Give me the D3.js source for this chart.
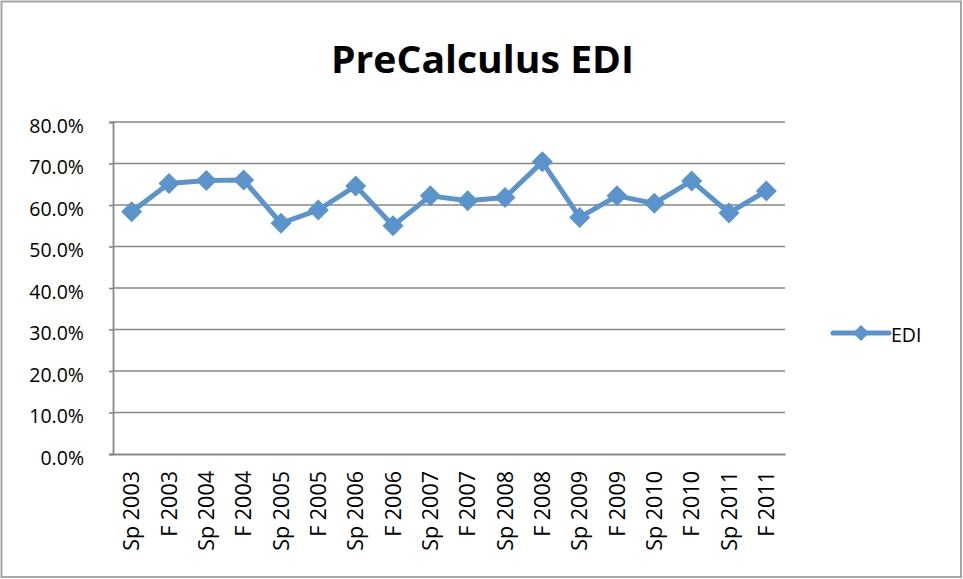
<!DOCTYPE html>
<html>
<head>
<meta charset="utf-8">
<script src="https://cdnjs.cloudflare.com/ajax/libs/d3/7.8.5/d3.min.js"></script>
<style>
  html, body { margin: 0; padding: 0; background: #fff; }
  svg { display: block; }
</style>
</head>
<body>
<svg id="chart" width="963" height="579"></svg>
<script>
const categories = ["Sp 2003","F 2003","Sp 2004","F 2004","Sp 2005","F 2005","Sp 2006","F 2006","Sp 2007","F 2007","Sp 2008","F 2008","Sp 2009","F 2009","Sp 2010","F 2010","Sp 2011","F 2011"];
const ediValues = [0.584, 0.652, 0.659, 0.660, 0.556, 0.588, 0.646, 0.550, 0.622, 0.610, 0.618, 0.704, 0.570, 0.622, 0.604, 0.658, 0.581, 0.634];
const yTicks = [0, 0.1, 0.2, 0.3, 0.4, 0.5, 0.6, 0.7, 0.8];
const seriesName = "EDI";
const titleText = "PreCalculus EDI";

const W = 963, H = 579;
const plot = { left: 113, right: 785, top: 122, bottom: 454 };
const lineColor = "#5B93CC";
const gridColor = "#878787";
const font = "'Open Sans', 'Noto Sans', sans-serif";

const svg = d3.select("#chart");

// outer border
svg.append("rect")
  .attr("x", 1.5).attr("y", 1.5)
  .attr("width", W - 3.5).attr("height", H - 3.5)
  .attr("fill", "#fff")
  .attr("stroke", "#a6a6a6").attr("stroke-width", 2);

const x = d3.scaleBand().domain(categories).range([plot.left, plot.right]).padding(0);
const y = d3.scaleLinear().domain([0, 0.8]).range([plot.bottom, plot.top]);

// title
svg.append("text")
  .attr("x", 331)
  .attr("y", 72.5)
  .attr("text-anchor", "start")
  .attr("font-family", font)
  .attr("font-weight", "bold")
  .attr("font-size", 37)
  .attr("textLength", 303)
  .attr("lengthAdjust", "spacingAndGlyphs")
  .attr("fill", "#000")
  .text(titleText);

// gridlines
svg.append("g")
  .selectAll("line")
  .data(yTicks.filter(d => d > 0))
  .join("line")
  .attr("x1", plot.left).attr("x2", plot.right)
  .attr("y1", d => y(d)).attr("y2", d => y(d))
  .attr("stroke", gridColor).attr("stroke-width", 1.6);

// y axis
const yAxis = d3.axisLeft(y)
  .tickValues(yTicks)
  .tickFormat(d3.format(".1%"))
  .tickSize(4)
  .tickPadding(25);
const gy = svg.append("g").attr("transform", `translate(${plot.left},0)`).call(yAxis);
gy.select(".domain").attr("stroke", gridColor).attr("stroke-width", 1.8);
gy.selectAll(".tick line").attr("stroke", gridColor).attr("stroke-width", 1.6);
gy.selectAll(".tick text")
  .attr("font-family", font).attr("font-size", 19.5).attr("fill", "#000")
  .attr("dy", "0.52em");

// x axis
const xAxis = d3.axisBottom(x).tickSize(0).tickPadding(0);
const gx = svg.append("g").attr("transform", `translate(0,${plot.bottom})`).call(xAxis);
gx.select(".domain").attr("stroke", gridColor).attr("stroke-width", 1.8);
gx.selectAll(".tick text")
  .attr("font-family", font).attr("font-size", 21.5).attr("fill", "#000")
  .attr("text-anchor", "end")
  .attr("transform", "rotate(-90)")
  .attr("x", -17)
  .attr("y", 0)
  .attr("dy", "0.36em");

// line
const pts = categories.map((c, i) => [x(c) + x.bandwidth() / 2, y(ediValues[i])]);
svg.append("path")
  .attr("d", d3.line()(pts))
  .attr("fill", "none")
  .attr("stroke", lineColor)
  .attr("stroke-width", 5)
  .attr("stroke-linejoin", "round");

const diamond = r => `M0,${-r}L${r},0L0,${r}L${-r},0Z`;
svg.append("g")
  .selectAll("path")
  .data(pts)
  .join("path")
  .attr("transform", d => `translate(${d[0]},${d[1]})`)
  .attr("d", diamond(10.5))
  .attr("fill", lineColor);

// legend
const lg = svg.append("g");
lg.append("line")
  .attr("x1", 833).attr("x2", 889).attr("y1", 333).attr("y2", 333)
  .attr("stroke", lineColor).attr("stroke-width", 5).attr("stroke-linecap", "round");
lg.append("path")
  .attr("transform", "translate(861,333)")
  .attr("d", diamond(8))
  .attr("fill", lineColor);
lg.append("text")
  .attr("x", 891).attr("y", 341.5)
  .attr("font-family", font).attr("font-size", 19.5).attr("fill", "#000")
  .text(seriesName);
</script>
</body>
</html>
